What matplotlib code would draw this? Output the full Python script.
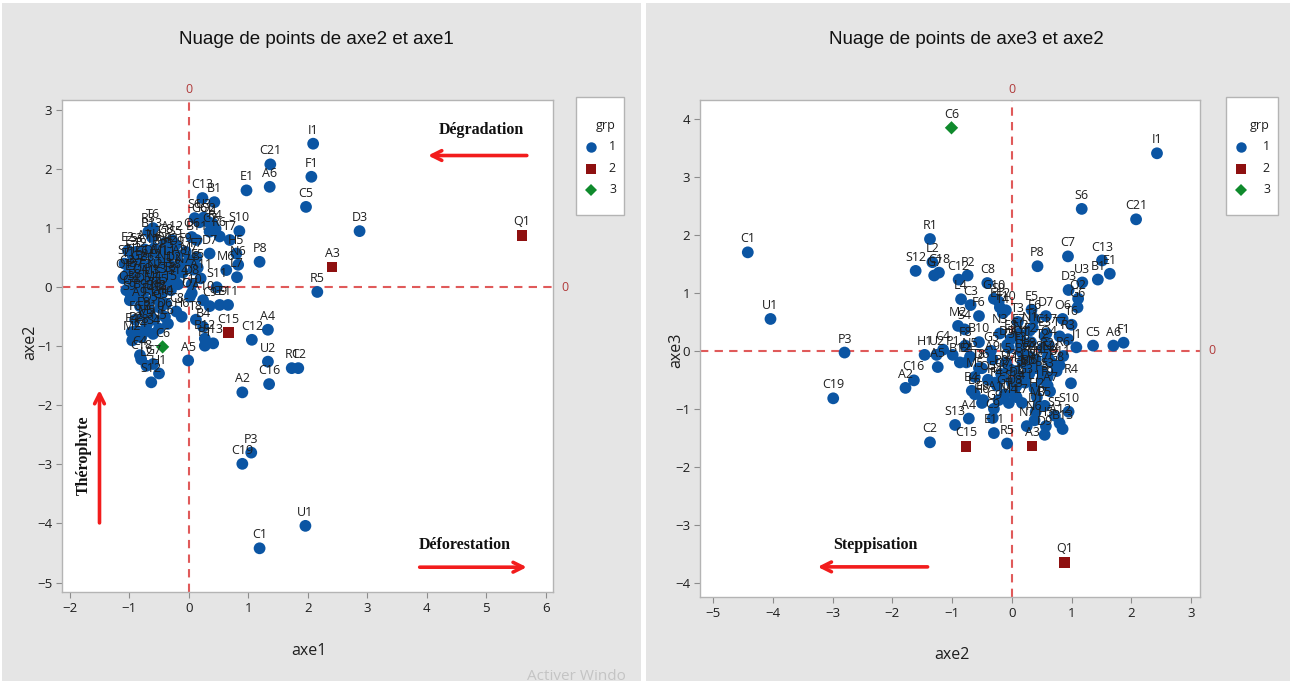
import matplotlib
matplotlib.use("Agg")
import matplotlib.pyplot as plt
from matplotlib.patches import Rectangle
from matplotlib.lines import Line2D

# ---------------------------------------------------------------
# Individuals: coordinates on the first three factorial axes
# ---------------------------------------------------------------
labels = [
    "I1", "C21", "A6", "E1", "F1", "C5", "D3", "A3", "R5", "P8",
    "S10", "C13", "B1", "S6", "C15", "A4", "C12", "U2", "C16", "R1",
    "C2", "A2", "P3", "C19", "U1", "C1", "Q1", "C6", "H1", "S12",
    "A5", "C7", "U3", "O2", "J1", "R6", "R4", "E5", "C8", "T4",
    "C3", "L4", "M2", "S4", "P2", "E4", "F8", "C4", "B4", "C9",
    "S13", "L2", "C18", "G7", "P1",
    "T6", "R3", "G8", "S5", "E2", "E3", "S3", "T2", "A7", "C17",
    "N4", "B5", "O4", "P5", "R2", "S7", "T1", "H2", "G2", "E6",
    "B6", "D1", "F2", "M1", "N1", "L1", "D2", "O1", "G3", "E7",
    "B7", "D4", "F3", "M3", "N2", "L3", "H3", "T3", "S8", "A8",
    "O3", "G4", "E8", "B9", "D5", "F4", "M4", "N3", "L5", "H4",
    "T5", "S9", "A9", "O5", "G5", "E9", "B10", "D6", "F6", "M5",
    "N5", "L6", "O6", "G6", "B11", "D7", "F7", "M6", "N6", "L7",
    "H5", "T7", "S11", "A10", "O7", "G9", "E11", "B12", "D8", "F9",
    "M7", "N7", "L8", "H6", "T8", "S14", "A11", "A12", "B13", "D9",
    "G10", "E12", "F10",
]
axe1 = [
    2.09, 1.37, 1.36, 0.97, 2.06, 1.97, 2.87, 2.41, 2.16, 1.19,
    0.85, 0.23, 0.43, 0.10, 0.67, 1.33, 1.06, 1.33, 1.35, 1.73,
    1.84, 0.90, 1.05, 0.90, 1.96, 1.19, 5.60, -0.44, -0.50, -0.63,
    -0.01, 0.35, 0.25, 0.32, 0.40, 0.52, 0.45, 0.15, -0.21, -0.55,
    -0.72, -0.80, -0.95, -0.60, -0.88, -0.96, -0.77, -0.82, 0.24, 0.35,
    0.41, -0.71, -0.80, -0.60, 0.27,
    -0.60, -0.68, -0.40, -0.22, -1.02, -0.95, -0.88, -0.80, -0.74, -0.66,
    -0.58, -0.50, -0.44, -0.36, -0.30, -1.08, -1.00, -0.92, -0.85, -0.78,
    -0.70, -0.62, -0.55, -0.48, -0.40, -0.32, -0.25, -1.10, -1.03, -0.96,
    -0.88, -0.80, -0.72, -0.64, -0.56, -0.48, -0.40, -0.32, -0.24, -0.15,
    -1.05, -0.98, -0.90, -0.82, -0.75, -0.68, -0.60, -0.52, -0.45, -0.38,
    -0.30, -0.99, -0.82, -0.65, -0.48, -0.75, -0.58, -0.40, -0.90, -0.70,
    -0.50, -0.35, 0.05, 0.18, 0.13, 0.35, 0.13, 0.63, 0.83, 0.81,
    0.80, 0.69, 0.47, 0.24, 0.02, 0.52, 0.66, 0.27, 0.05, -0.05,
    0.00, -0.10, 0.08, -0.12, 0.12, -0.18, 0.20, -0.28, -0.62, -0.20,
    -0.45, -0.55, 0.05,
]
axe2 = [
    2.43, 2.08, 1.70, 1.64, 1.87, 1.36, 0.95, 0.34, -0.08, 0.43,
    0.95, 1.51, 1.44, 1.17, -0.77, -0.72, -0.89, -1.26, -1.64, -1.37,
    -1.37, -1.78, -2.80, -2.99, -4.04, -4.42, 0.88, -1.01, -1.46, -1.61,
    -1.24, 0.94, 1.18, 1.11, 1.08, 0.86, 0.99, 0.33, -0.41, -0.15,
    -0.69, -0.85, -0.90, -0.79, -0.74, -0.76, -0.78, -1.15, -0.67, -0.32,
    -0.95, -1.33, -1.22, -1.30, -0.99,
    1.00, 0.94, 0.75, 0.72, 0.62, 0.55, 0.60, 0.52, 0.64, 0.58,
    0.66, 0.55, 0.62, 0.50, 0.60, 0.40, 0.35, 0.42, 0.30, 0.38,
    0.28, 0.40, 0.32, 0.40, 0.30, 0.38, 0.28, 0.15, 0.22, 0.12,
    0.18, 0.08, 0.15, 0.05, 0.15, 0.08, 0.18, 0.10, 0.15, 0.40,
    -0.05, -0.12, -0.02, -0.18, -0.08, -0.25, -0.05, -0.20, -0.10, -0.28,
    -0.05, -0.22, -0.32, -0.40, -0.35, -0.48, -0.55, -0.50, -0.55, -0.62,
    -0.70, -0.62, 0.85, 1.10, 0.80, 0.57, 0.51, 0.29, 0.38, 0.17,
    0.57, 0.80, 0.00, -0.22, -0.16, -0.30, -0.30, -0.87, 0.05, 0.60,
    0.45, 0.25, 0.30, -0.50, -0.55, 0.05, 0.15, 0.80, 0.85, 0.55,
    -0.30, -0.20, -0.10,
]
axe3 = [
    3.41, 2.27, 0.09, 1.33, 0.14, 0.09, 1.05, -1.64, -1.60, 1.46,
    -1.05, 1.56, 1.23, 2.45, -1.65, -1.17, 1.23, -0.07, -0.51, 1.93,
    -1.58, -0.64, -0.03, -0.82, 0.55, 1.70, -3.65, 3.85, -0.07, 1.38,
    -0.28, 1.63, 1.18, 0.90, 0.06, -0.09, -0.56, 0.71, 1.17, 0.65,
    0.79, 0.89, 0.43, 0.37, 1.30, -0.20, 0.09, 0.02, -0.69, -1.16,
    -1.28, 1.53, 1.35, 1.30, -0.07,
    0.45, 0.20, -0.35, -1.12, -0.15, 0.25, -0.45, 0.05, -0.70, 0.30,
    -0.20, -0.95, 0.10, -0.50, -0.10, -0.30, 0.40, -0.80, -0.15, 0.55,
    -0.40, -1.05, 0.15, -0.25, 0.35, -0.65, -0.30, 0.10, -0.55, 0.30,
    -0.20, -0.60, 0.00, -0.35, 0.20, -0.80, -0.05, 0.50, -0.45, -0.15,
    -0.30, -0.75, 0.20, -0.40, 0.10, -0.60, -0.90, 0.30, -0.20, -0.55,
    0.05, 0.85, -0.15, -0.50, 0.00, -0.85, 0.15, -0.30, 0.60, -0.45,
    -0.10, -0.75, 0.55, 0.75, -0.25, 0.60, -0.35, -0.40, -1.20, -0.90,
    -1.30, 0.25, -0.55, -0.85, -0.45, -1.00, -1.42, -0.20, -0.75, -0.60,
    -0.95, -1.30, -0.10, -0.90, -0.30, -0.65, 0.10, -1.25, -1.35, -1.45,
    0.90, 0.75, 0.70,
]
groupe2 = ["A3", "C15", "Q1"]
groupe3 = ["C6"]

grp = [3 if n in groupe3 else 2 if n in groupe2 else 1 for n in labels]

# group styles (colour, marker, size)
styles = {
    1: ("#0B55A3", "o", 72),
    2: ("#8E1010", "s", 58),
    3: ("#0F8A2C", "D", 46),
}

W, H = 1290, 681
fig = plt.figure(figsize=(W / 100, H / 100), dpi=100)
fig.patch.set_facecolor("white")


def fx(px):
    return px / W


def fy(py):
    return 1 - py / H


BG = "#E5E5E5"
fig.add_artist(Rectangle((fx(2), 0), fx(641) - fx(2), fy(3), transform=fig.transFigure,
                         facecolor=BG, edgecolor="none", zorder=0))
fig.add_artist(Rectangle((fx(646), 0), fx(1290) - fx(646), fy(3), transform=fig.transFigure,
                         facecolor=BG, edgecolor="none", zorder=0))

TXT = "#1E1E1E"
LAB_FONT = ["Open Sans", "DejaVu Sans"]
TITLE_FONT = ["Liberation Sans", "DejaVu Sans"]
SERIF = ["Liberation Serif", "DejaVu Serif"]
ZERO = "#E05A5A"


def scatter_panel(ax, xs, ys, xlim, ylim, xticks, yticks):
    ax.set_facecolor("white")
    for g in (1, 2, 3):
        col, mk, sz = styles[g]
        px = [x for x, k in zip(xs, grp) if k == g]
        py = [y for y, k in zip(ys, grp) if k == g]
        ax.scatter(px, py, s=sz, c=col, marker=mk, edgecolors="none", zorder=3)
    for n, x, y in zip(labels, xs, ys):
        ax.annotate(n, (x, y), xytext=(0, 5), textcoords="offset points",
                    ha="center", va="bottom", fontsize=9, color=TXT,
                    family=LAB_FONT, zorder=4)
    ax.axvline(0, color=ZERO, lw=1.5, ls=(0, (4, 3)), zorder=2)
    ax.axhline(0, color=ZERO, lw=1.5, ls=(0, (4, 3)), zorder=2)
    ax.set_xlim(*xlim)
    ax.set_ylim(*ylim)
    ax.set_xticks(xticks)
    ax.set_yticks(yticks)
    ax.tick_params(direction="out", length=4, width=0.8, color="#8C8C8C",
                   labelsize=9.5, labelcolor=TXT, pad=3)
    for lbl in ax.get_xticklabels() + ax.get_yticklabels():
        lbl.set_family(LAB_FONT)
    for sp in ax.spines.values():
        sp.set_color("#B4B4B4")
        sp.set_linewidth(1.0)
    # reference-line values
    ax.annotate("0", xy=(0, 1), xycoords=("data", "axes fraction"), xytext=(0, 3),
                textcoords="offset points", ha="center", va="bottom",
                fontsize=9, color="#B03A3A", family=LAB_FONT)
    ax.annotate("0", xy=(1, 0), xycoords=("axes fraction", "data"), xytext=(6, 0),
                textcoords="offset points", ha="left", va="center",
                fontsize=9, color="#B03A3A", family=LAB_FONT)


def legend_box(x0, x1, y0, y1):
    fig.add_artist(Rectangle((fx(x0), fy(y1)), fx(x1) - fx(x0), fy(y0) - fy(y1),
                             transform=fig.transFigure, facecolor="white",
                             edgecolor="#B4B4B4", lw=1.0, zorder=1))
    fig.text(fx(x1 - 8), fy(126), "grp", ha="right", va="center", fontsize=9,
             color=TXT, family=LAB_FONT)
    for i, g in enumerate((1, 2, 3)):
        col, mk, sz = styles[g]
        yy = 147 + i * 21.5
        fig.add_artist(Line2D([fx(x0 + 15)], [fy(yy)], marker=mk, color=col,
                              markersize=7.5 if mk != "D" else 6.5, linestyle="none",
                              markeredgewidth=0, transform=fig.transFigure, zorder=2))
        fig.text(fx(x1 - 8), fy(yy), str(g), ha="right", va="center", fontsize=9,
                 color=TXT, family=LAB_FONT)


# ---------------- left panel: axe2 vs axe1 ----------------
ax1 = fig.add_axes([fx(62), fy(592), fx(553) - fx(62), fy(100) - fy(592)])
scatter_panel(ax1, axe1, axe2, (-2.13, 6.12), (-5.16, 3.17),
              range(-2, 7), range(-5, 4))
fig.text(fx(316), fy(40), "Nuage de points de axe2 et axe1", ha="center", va="center",
         fontsize=13.5, color="#111111", family=TITLE_FONT)
fig.text(fx(309), fy(651), "axe1", ha="center", va="center", fontsize=11.5,
         color=TXT, family=LAB_FONT)
fig.text(fx(30), fy(342), "axe2", ha="center", va="center", fontsize=11.5,
         color=TXT, family=LAB_FONT, rotation=90)
legend_box(576, 624, 97, 215)

arrow = dict(arrowstyle="->,head_length=0.7,head_width=0.35", color="#F21C1C", lw=2.6,
             shrinkA=0, shrinkB=0)
ax1.annotate("", xy=(4.02, 2.23), xytext=(5.68, 2.23), arrowprops=arrow)
ax1.text(4.92, 2.66, "Dégradation", ha="center", va="center", fontsize=11.5,
         fontweight="bold", family=SERIF, color="#111111")
ax1.annotate("", xy=(5.68, -4.74), xytext=(3.88, -4.74), arrowprops=arrow)
ax1.text(4.64, -4.37, "Déforestation", ha="center", va="center", fontsize=11.5,
         fontweight="bold", family=SERIF, color="#111111")
ax1.annotate("", xy=(-1.50, -1.74), xytext=(-1.50, -3.99), arrowprops=arrow)
ax1.text(-1.76, -2.84, "Thérophyte", ha="center", va="center", fontsize=11.5,
         fontweight="bold", family=SERIF, color="#111111", rotation=90)

# ---------------- right panel: axe3 vs axe2 ----------------
ax2 = fig.add_axes([fx(700), fy(597), fx(1200) - fx(700), fy(100) - fy(597)])
scatter_panel(ax2, axe2, axe3, (-5.22, 3.15), (-4.25, 4.33),
              range(-5, 4), range(-4, 5))
fig.text(fx(966), fy(40), "Nuage de points de axe3 et axe2", ha="center", va="center",
         fontsize=13.5, color="#111111", family=TITLE_FONT)
fig.text(fx(952), fy(655), "axe2", ha="center", va="center", fontsize=11.5,
         color=TXT, family=LAB_FONT)
fig.text(fx(676), fy(350), "axe3", ha="center", va="center", fontsize=11.5,
         color=TXT, family=LAB_FONT, rotation=90)
legend_box(1226, 1278, 97, 215)

ax2.annotate("", xy=(-3.25, -3.73), xytext=(-1.41, -3.73), arrowprops=arrow)
ax2.text(-2.29, -3.35, "Steppisation", ha="center", va="center", fontsize=11.5,
         fontweight="bold", family=SERIF, color="#111111")

fig.text(fx(527), fy(676), "Activer Windo", ha="left", va="center", fontsize=11,
         color="#C4C4C4", family=LAB_FONT)

fig.savefig("out.png", dpi=100, facecolor=fig.get_facecolor())
